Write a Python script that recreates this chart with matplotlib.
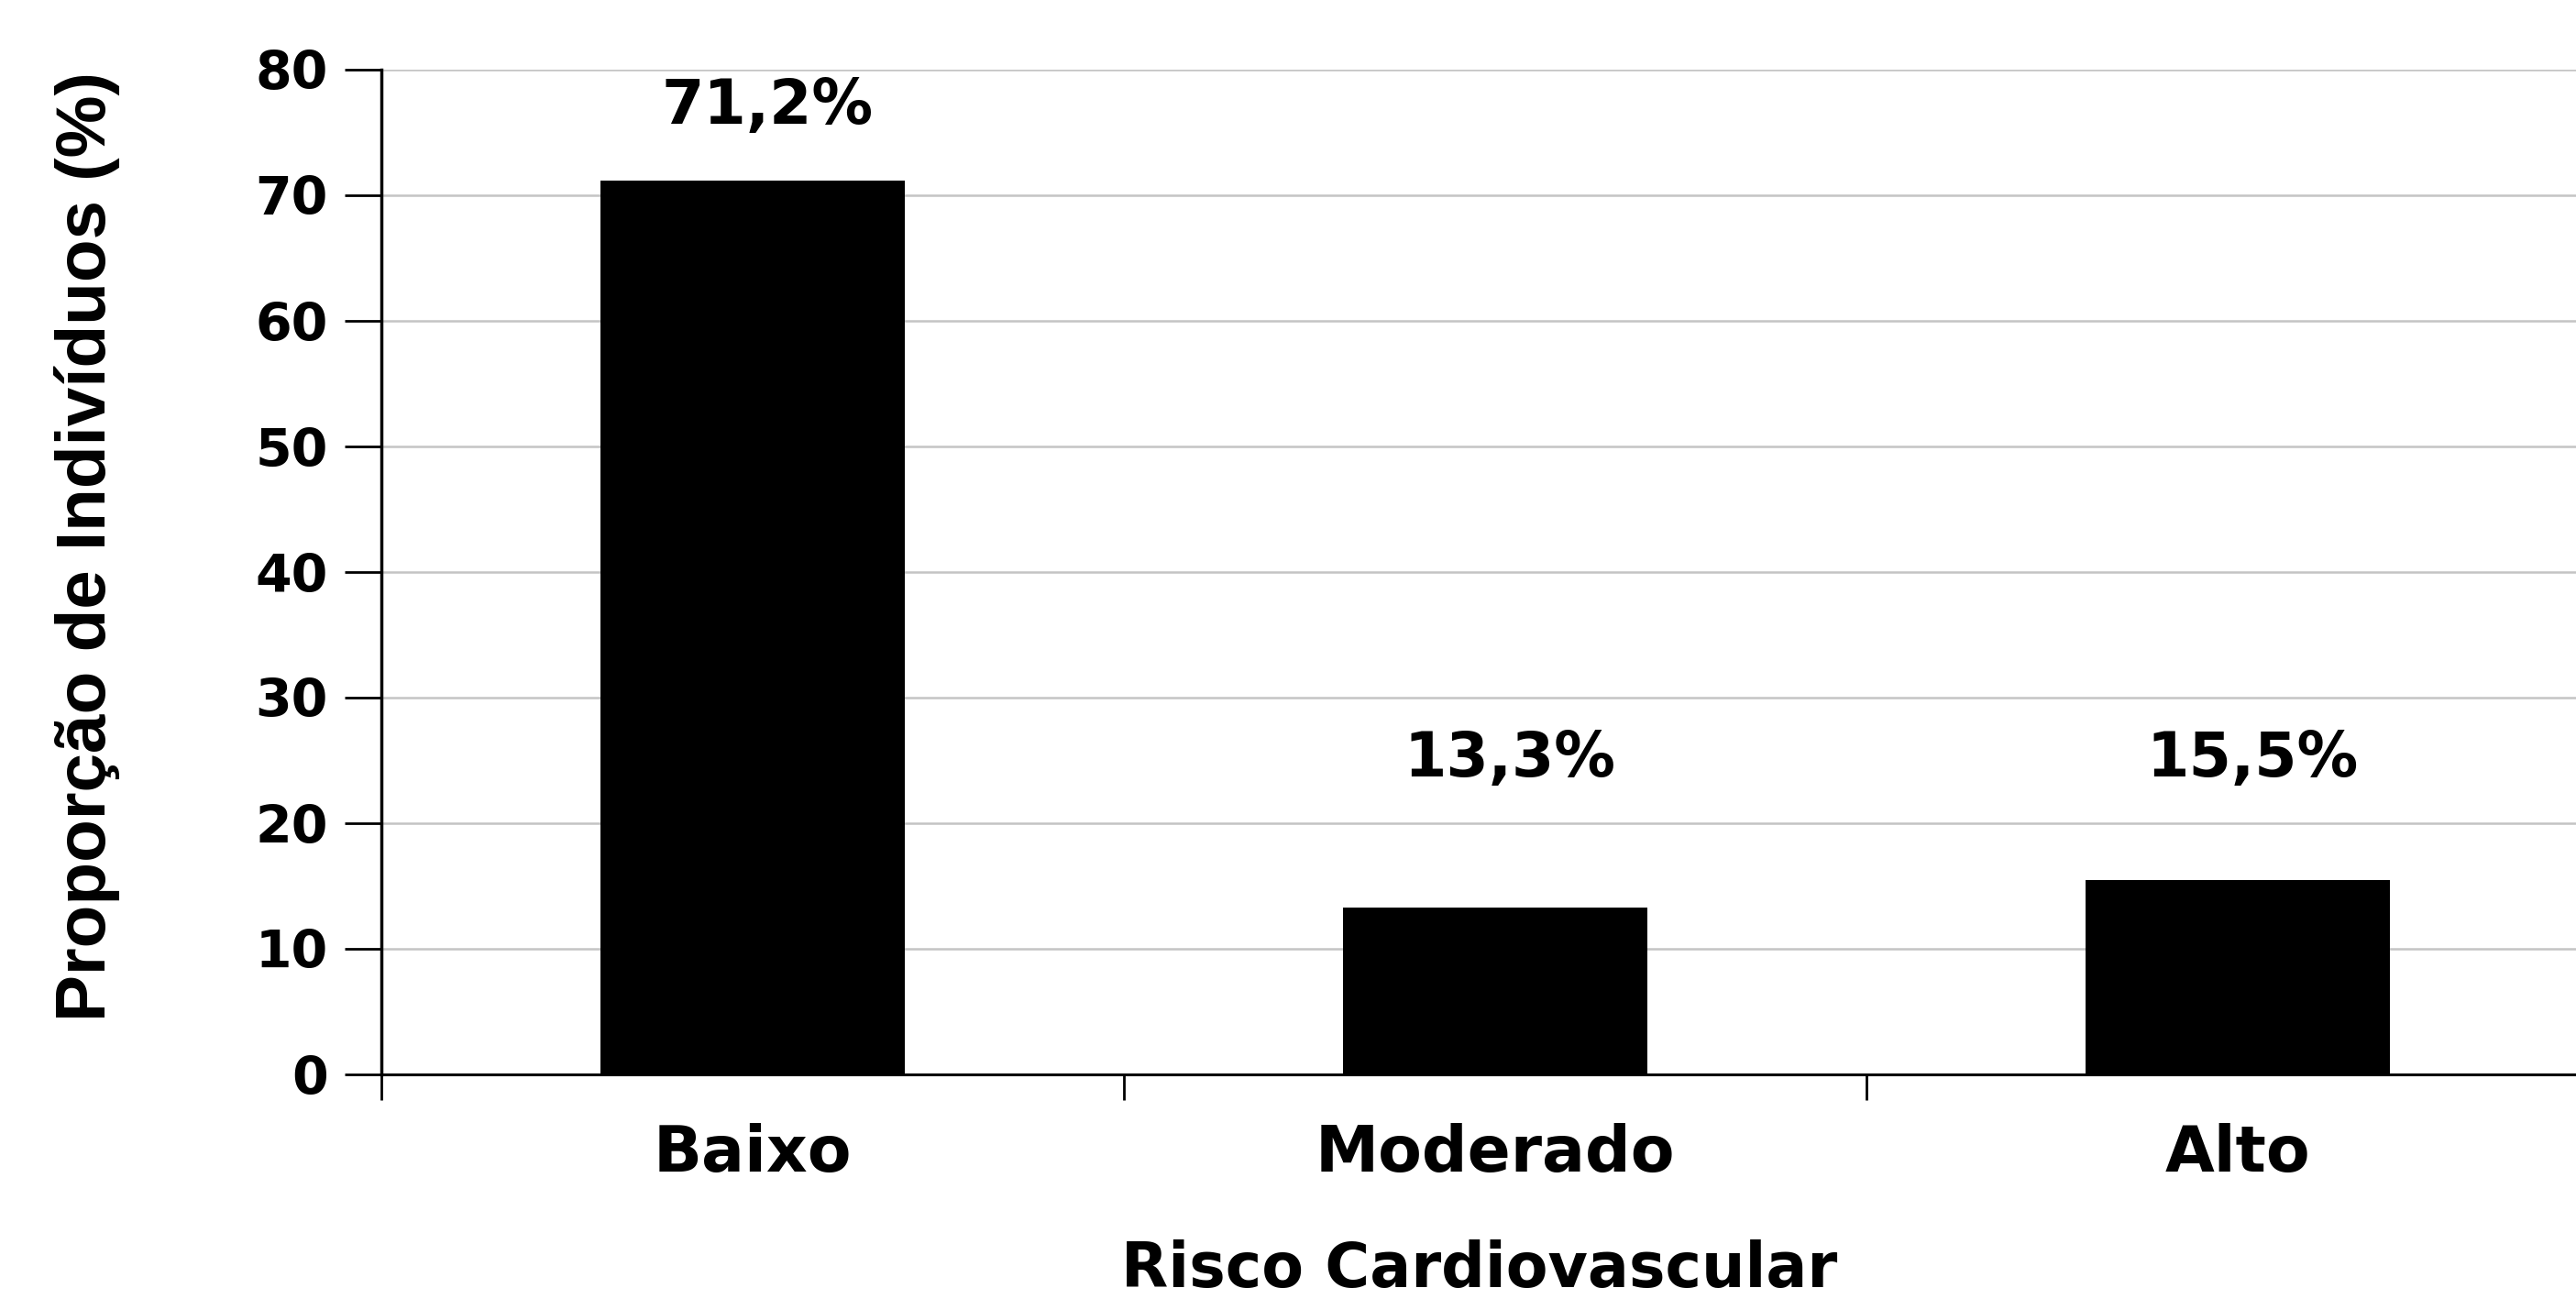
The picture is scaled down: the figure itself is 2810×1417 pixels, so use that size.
import matplotlib
matplotlib.use('Agg')
import matplotlib.pyplot as plt
import numpy as np

# risco cardiovascular por categoria
categorias = ['Baixo', 'Moderado', 'Alto']
proporcao = [71.2, 13.3, 15.5]
rotulos = ['71,2%', '13,3%', '15,5%']
y_rotulos = [77.1, 25.1, 25.1]   # altura onde vai cada rotulo

fig = plt.figure(figsize=(28.1, 14.17), dpi=100)
# o eixo passa um pouco da borda direita da figura
ax = fig.add_axes([416/2810, 245/1417, 2430/2810, 1096/1417])

x = np.arange(len(categorias))
ax.bar(x, proporcao, width=0.41, color='black', zorder=3)

for xi, y, txt in zip(x, y_rotulos, rotulos):
    ax.text(xi + 0.02, y, txt, ha='center', va='center', fontsize=48,
            fontweight='bold', family='DejaVu Sans')

ax.set_xlim(-0.5, 2.5)
ax.set_ylim(0, 80)
ax.set_yticks(np.arange(0, 81, 10))
ax.set_xticks(x)
ax.set_xticklabels(categorias, fontsize=50, fontweight='bold')
ax.set_xticks(np.arange(-0.5, 2.6, 1), minor=True)

ax.tick_params(axis='x', which='major', length=0, pad=38)
ax.tick_params(axis='x', which='minor', length=20, width=2, direction='out')
ax.tick_params(axis='y', length=29, width=2, pad=13, labelsize=41)
for lab in ax.get_yticklabels():
    lab.set_fontweight('bold')

ax.yaxis.grid(True, color='#c4c4c4', linewidth=1.8, zorder=0)
ax.set_axisbelow(True)

for s in ['top', 'right']:
    ax.spines[s].set_visible(False)
ax.spines['left'].set_linewidth(2.5)
ax.spines['bottom'].set_linewidth(2.2)

ax.set_xlabel('Risco Cardiovascular', fontsize=48, fontweight='bold')
ax.xaxis.label.set_verticalalignment('center')
ax.xaxis.set_label_coords(0.493, -0.194)

ax.set_ylabel('Proporção de Indivíduos (%)', fontsize=55, fontweight='bold',
              family='Liberation Sans')
ax.yaxis.label.set_verticalalignment('center')
ax.yaxis.set_label_coords(-0.132, 0.5255)

fig.savefig('out.png', dpi=100)
